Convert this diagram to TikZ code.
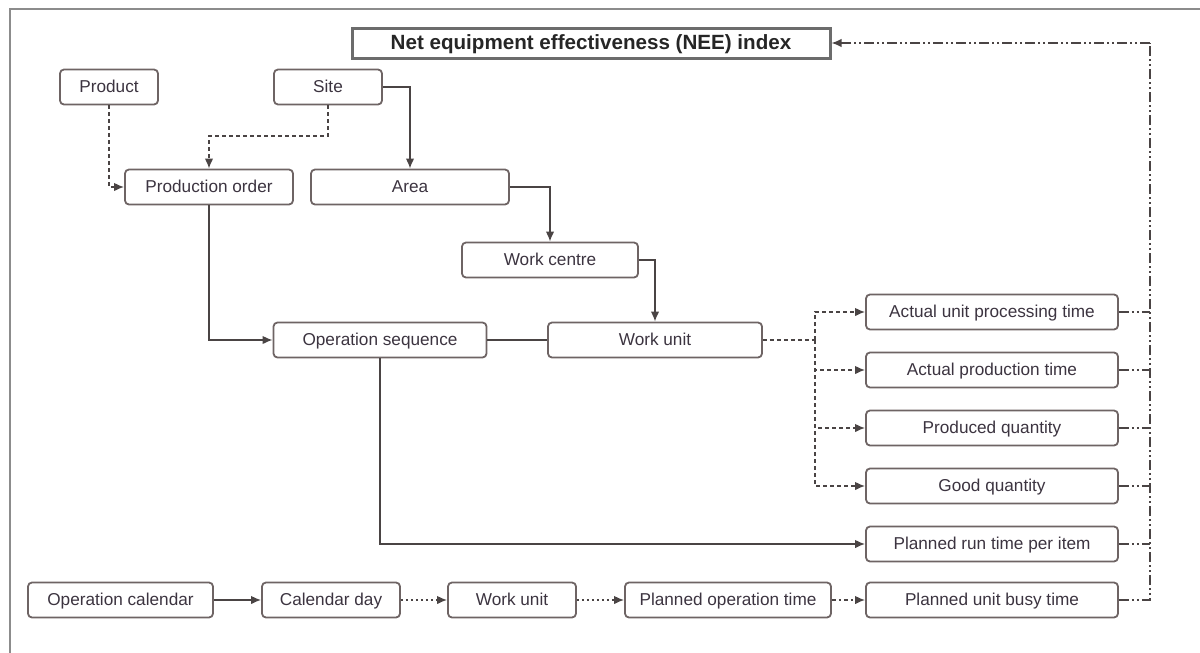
\documentclass[tikz,border=0pt]{standalone}
\usepackage{fontspec}
\setmainfont{Liberation Sans}
\usetikzlibrary{arrows.meta}
\definecolor{boxline}{HTML}{6E6464}
\definecolor{txt}{HTML}{3C3440}
\definecolor{wire}{HTML}{4A4444}
\begin{document}
\begin{tikzpicture}[x=1pt,y=-1pt,
  box/.style={draw=boxline,line width=1.8pt,rounded corners=4pt,fill=white,
    text=txt,font=\fontsize{17.2}{19}\selectfont,inner sep=0pt,
    text height=12.5pt,text depth=1.5pt,minimum height=35pt},
  wire/.style={draw=wire,line width=1.5pt},
  tip/.style={-{Latex[length=10pt,width=8.5pt]}},
  dsh/.style={dash pattern=on 4pt off 3pt},
  dots/.style={dash pattern=on 2pt off 3pt},
  dashdotline/.style={dash pattern=on 10pt off 3pt on 2pt off 3pt on 2pt off 3pt},
]
\useasboundingbox (0,0) rectangle (1200,653);
% outer frame (top and left edges)
\draw[color=gray!90,line width=2pt] (1200,9) -- (10,9) -- (10,653);

% title
\node[draw=gray!85!black,line width=3pt,minimum width=478pt,minimum height=30pt,
  inner sep=0pt,font=\bfseries\fontsize{20.6}{22}\selectfont,text=black!85,
  text height=14.5pt,text depth=2pt]
  (nee) at (591,43) {Net equipment effectiveness (NEE) index};

% upper hierarchy
\node[box,minimum width=98pt]  (product)   at (109,87)   {Product};
\node[box,minimum width=108pt] (site)      at (328,87)   {Site};
\node[box,minimum width=168pt] (prodorder) at (209,187)  {Production order};
\node[box,minimum width=198pt] (area)      at (410,187)  {Area};
\node[box,minimum width=176pt] (wcentre)   at (550,260)  {Work centre};
\node[box,minimum width=213pt] (opseq)     at (380,340)  {Operation sequence};
\node[box,minimum width=214pt] (wunit)     at (655,340)  {Work unit};

% measured quantities
\node[box,minimum width=252pt] (aupt)  at (992,312) {Actual unit processing time};
\node[box,minimum width=252pt] (apt)   at (992,370) {Actual production time};
\node[box,minimum width=252pt] (pq)    at (992,428) {Produced quantity};
\node[box,minimum width=252pt] (gq)    at (992,486) {Good quantity};
\node[box,minimum width=252pt] (prt)   at (992,544) {Planned run time per item};

% calendar chain
\node[box,minimum width=185pt] (opcal)   at (120.5,600) {Operation calendar};
\node[box,minimum width=138pt] (calday)  at (331,600)   {Calendar day};
\node[box,minimum width=128pt] (wunitb)  at (512,600)   {Work unit};
\node[box,minimum width=206pt] (planop)  at (728,600)   {Planned operation time};
\node[box,minimum width=252pt] (pubt)    at (992,600)   {Planned unit busy time};

% helper coordinates
\coordinate (sitebend) at (328,136);
\coordinate (split)    at (815,340);
\coordinate (bustop)   at (1150,43);
\coordinate (busbot)   at (1150,600);

% hierarchy connectors
\draw[wire,dsh,tip] (product.south) |- (prodorder.west);
\draw[wire,dsh,tip] (site.south) -- (sitebend) -| (prodorder.north);
\draw[wire,tip] (site.east) -| (area.north);
\draw[wire,tip] (area.east) -| (wcentre.north);
\draw[wire,tip] (wcentre.east) -| (wunit.north);
\draw[wire,tip] (prodorder.south) |- (opseq.west);
\draw[wire] (opseq.east) -- (wunit.west);
\draw[wire,tip] (opseq.south) |- (prt.west);

% work unit to measured quantities
\draw[wire,dsh] (wunit.east) -- (split);
\draw[wire,dsh,tip] (split) |- (aupt.west);
\draw[wire,dsh,tip] (split) |- (apt.west);
\draw[wire,dsh,tip] (split) |- (pq.west);
\draw[wire,dsh,tip] (split) |- (gq.west);

% calendar chain connectors
\draw[wire,tip] (opcal.east) -- (calday.west);
\draw[wire,dots,tip] (calday.east) -- (wunitb.west);
\draw[wire,dots,tip] (wunitb.east) -- (planop.west);
\draw[wire,dash pattern=on 4pt off 3pt on 2pt off 3pt,tip] (planop.east) -- (pubt.west);

% feedback bus into the NEE index
\draw[wire,dashdotline] (pubt.east) -- (busbot) -- (bustop);
\draw[wire,dashdotline,tip] (bustop) -- (nee.east);
\foreach \b in {aupt,apt,pq,gq,prt}
  \draw[wire,dashdotline] (\b.east) -- (\b.east -| busbot);
\end{tikzpicture}
\end{document}
